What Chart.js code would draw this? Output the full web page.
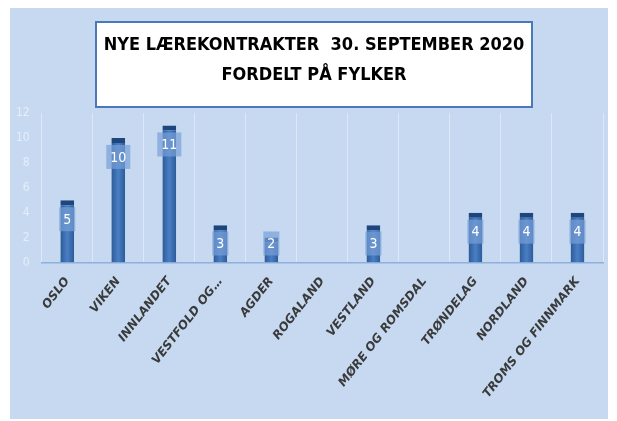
<!DOCTYPE html>
<html lang="no"><head>
<meta charset="utf-8">
<title>Nye lærekontrakter</title>
<style type="text/css">
body { margin:0; background:#ffffff; }
#wrap { width:617px; height:421px; }
</style>
<script src="https://cdn.jsdelivr.net/npm/chart.js"></script>
<script>
// fylker og antall nye lærekontrakter
var fylker=["OSLO","VIKEN","INNLANDET","VESTFOLD OG…","AGDER","ROGALAND","VESTLAND",
  "MØRE OG ROMSDAL","TRØNDELAG","NORDLAND","TROMS OG FINNMARK"];
var antall=[5,10,11,3,2,0,3,0,4,4,4];
var tittel=["NYE LÆREKONTRAKTER  30. SEPTEMBER 2020","FORDELT PÅ FYLKER"];
var yTicks=[0,2,4,6,8,10,12];

var FONT="'DejaVu Sans',sans-serif";
var NARROW="'DejaVu Sans Condensed','DejaVu Sans',sans-serif";

// bakgrunn, tittelboks og tittel
var panelPlugin={id:'panel',
  beforeDraw:function(c){ var ctx=c.ctx; ctx.save();
    ctx.fillStyle='#c6d9f1'; ctx.fillRect(10,8,598,411);
    ctx.fillStyle='#ffffff'; ctx.fillRect(96,22,436,85);
    ctx.strokeStyle='#4a78b8'; ctx.lineWidth=2; ctx.strokeRect(96,22,436,85);
    ctx.fillStyle='#000000'; ctx.font="bold 18px "+NARROW;
    ctx.textAlign='center'; ctx.textBaseline='middle';
    ctx.fillText(tittel[0],314,45); ctx.fillText(tittel[1],314,75);
    ctx.restore(); }};

var labelPlugin={id:'barlabels',
  afterDatasetsDraw:function(c){ var ctx=c.ctx; var meta=c.getDatasetMeta(0);
    ctx.save(); ctx.font="14px "+NARROW;
    ctx.textAlign='center'; ctx.textBaseline='middle';
    meta.data.forEach(function(bar,i){ var v=antall[i]; if(!v) return;
      var y=Math.min(bar.y+19,bar.base-19); var txt=String(v);
      var w=ctx.measureText(txt).width+8;
      ctx.fillStyle='rgba(120,160,215,0.7)'; ctx.fillRect(bar.x-w/2,y-12,w,24);
      ctx.fillStyle='#ffffff'; ctx.fillText(txt,bar.x,y+1); });
    ctx.restore(); }};

function barFill(ctx) {
  var ch=ctx.chart; if(!ch.scales.x) return '#3a6cb0';
  var x=ch.scales.x.getPixelForValue(ctx.dataIndex);
  if(!isFinite(x)) return '#3a6cb0';
  var g=ch.ctx.createLinearGradient(x-7,0,x+7,0);
  g.addColorStop(0,'#2c5a98'); g.addColorStop(0.5,'#4a7fc4'); g.addColorStop(1,'#2c5a98');
  return g; }

function initChart() {
  var config={type:'bar',
    data:{labels:fylker,datasets:[{data:antall,
      backgroundColor:barFill,borderColor:'#1f467c',
      borderWidth:{top:5,left:0,right:0,bottom:0},borderSkipped:false,
      categoryPercentage:1,barPercentage:0.27}]},
    options:{responsive:false,animation:false,
      layout:{padding:{left:12,right:14,top:113,bottom:9}},
      plugins:{legend:{display:false},tooltip:{enabled:false},title:{display:false}},
      scales:{
        x:{grid:{color:'rgba(230,238,250,0.7)',drawTicks:false,offset:true},
          border:{color:'#8eb0de',width:1.5},
          ticks:{color:'#3a3a3a',maxRotation:52,minRotation:52,padding:12,
            font:{family:FONT,size:12,style:'italic',weight:'bold'}}},
        y:{min:0,max:12,grid:{display:false},border:{display:false},
          afterBuildTicks:function(s){ s.ticks=yTicks.map(function(v){return {value:v};}); },
          ticks:{color:'#e6eef9',padding:4,font:{family:NARROW,size:12}}}}},
    plugins:[panelPlugin,labelPlugin]};
  new Chart(document.getElementById('myChart'),config); }
</script></head>
<body onload="initChart();">
<div id="wrap"><canvas id="myChart" width="617" height="421"></canvas></div>
</body></html>
